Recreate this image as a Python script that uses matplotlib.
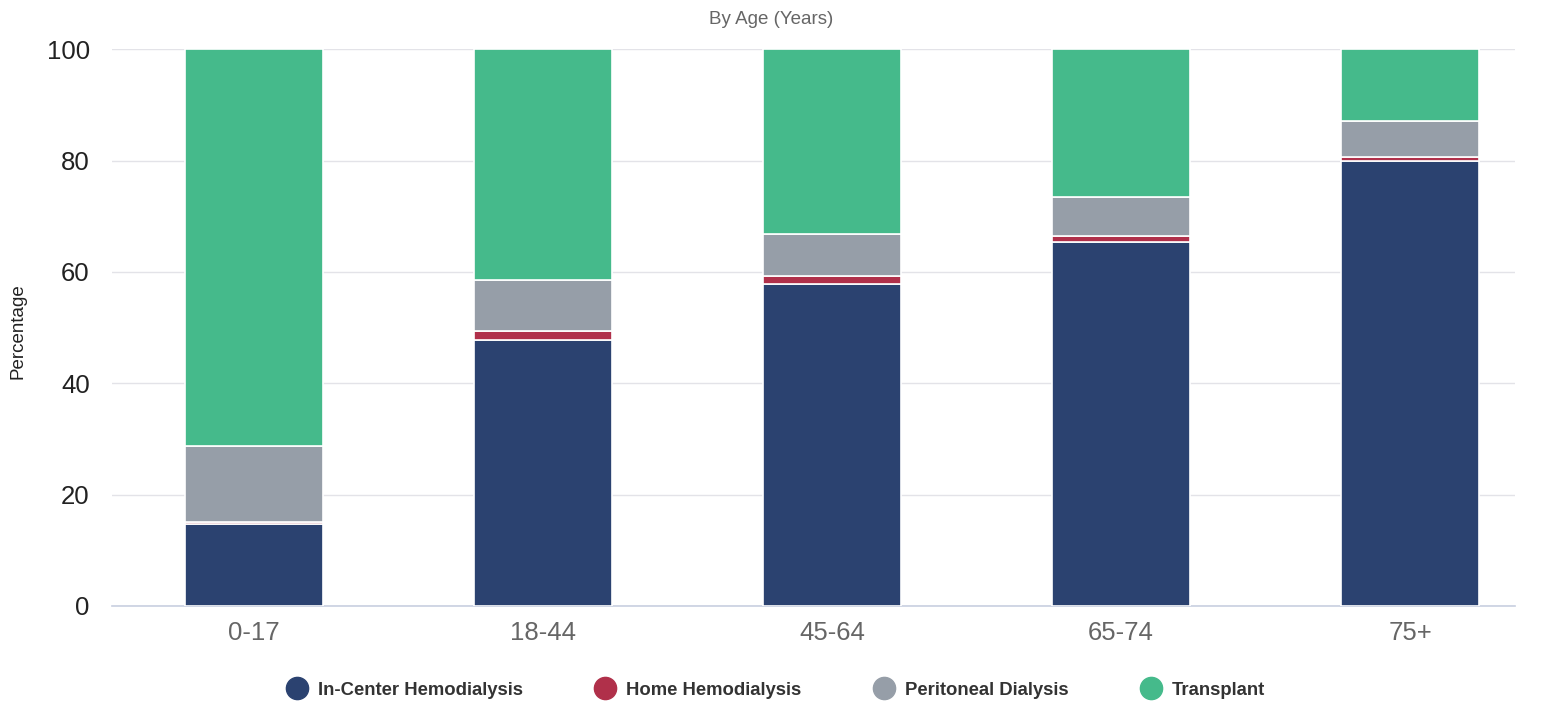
import matplotlib.pyplot as plt
from matplotlib.lines import Line2D
import numpy as np

plt.rcParams['font.family'] = ['Liberation Sans', 'DejaVu Sans']

ages = ["0-17", "18-44", "45-64", "65-74", "75+"]
in_center = [14.8, 47.8, 57.9, 65.3, 79.9]
home_hd = [0.3, 1.5, 1.3, 1.2, 0.8]
peritoneal = [13.7, 9.2, 7.7, 7.0, 6.4]
transplant = [71.2, 41.5, 33.1, 26.5, 12.9]

names = ["In-Center Hemodialysis", "Home Hemodialysis", "Peritoneal Dialysis", "Transplant"]
colors = ["#2b4270", "#b0304a", "#969ea8", "#45ba8b"]
series = [in_center, home_hd, peritoneal, transplant]

fig = plt.figure(figsize=(15.43, 7.03), dpi=100)
ax = fig.add_axes([0.0726, 0.138, 0.9093, 0.792])

x = np.arange(len(ages))
bottom = np.zeros(len(ages))
for vals, c in zip(series, colors):
    ax.bar(x, vals, width=0.478, bottom=bottom, color=c, edgecolor="white", linewidth=1.2, zorder=3)
    bottom += np.array(vals)

ax.set_xlim(-0.491, 4.363)
ax.set_ylim(0, 100)
ax.set_yticks([0, 20, 40, 60, 80, 100])
ax.set_xticks(x)
ax.set_xticklabels(ages)
ax.tick_params(axis="both", length=0, labelsize=18.5)
ax.tick_params(axis="y", pad=16, colors="#222222")
ax.tick_params(axis="x", pad=11, colors="#666666")
ax.grid(axis="y", color="#e3e3e8", linewidth=1, zorder=0)
for s in ["top", "right", "left"]:
    ax.spines[s].set_visible(False)
ax.spines["bottom"].set_color("#c8cfe0")
ax.spines["bottom"].set_linewidth(1.2)

fig.text(0.0117, 0.529, "Percentage", rotation=90, ha="center", va="center", fontsize=13.5, color="#222222")
fig.text(0.5, 0.972, "By Age (Years)", ha="center", va="center", fontsize=13.5, color="#666666")

handles = [Line2D([0], [0], marker="o", linestyle="", markersize=16, markerfacecolor=c, markeredgecolor=c) for c in colors]
leg = fig.legend(handles, names, loc="center", bbox_to_anchor=(0.502, 0.018), ncol=4, frameon=False,
                 handlelength=1.4, handletextpad=0.45, columnspacing=3.75, prop={"weight": "bold", "size": 13.3})
for t in leg.get_texts():
    t.set_color("#333333")

fig.savefig("out.png", dpi=100)
